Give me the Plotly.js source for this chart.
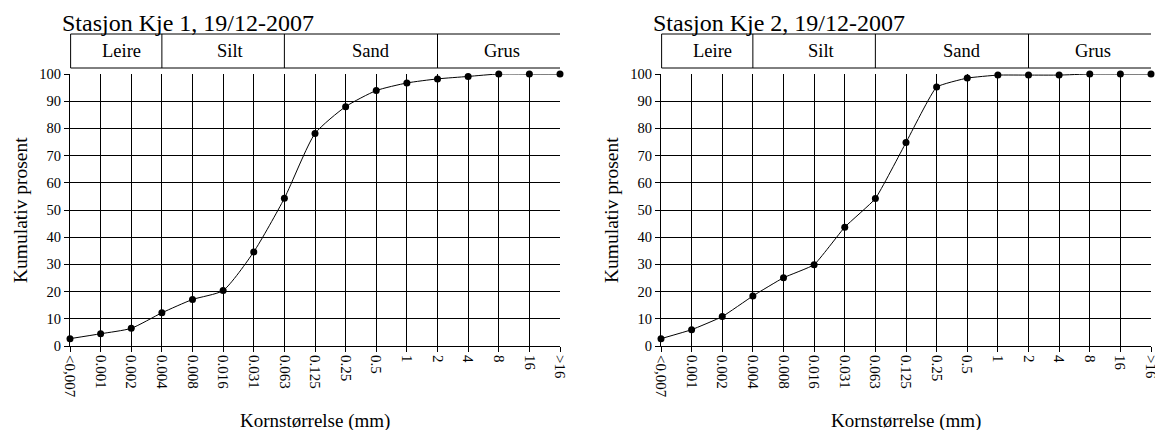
<!DOCTYPE html>
<html>
<head>
<meta charset="utf-8">
<script src="https://cdn.plot.ly/plotly-3.0.1.min.js"></script>
<style>html,body{margin:0;padding:0;background:#fff;}#chart{width:1155px;height:430px;}</style>
</head>
<body>
<div id="chart"></div>
<script>
// ---- data ----
const categories = ['<0,007','0.001','0.002','0.004','0.008','0.016','0.031','0.063','0.125','0.25','0.5','1','2','4','8','16','>16'];
const kje1 = [2.7, 4.5, 6.5, 12.2, 17.1, 20.4, 34.6, 54.3, 78.1, 88.0, 93.9, 96.7, 98.2, 99.1, 100, 100, 100];
const kje2 = [2.7, 6.0, 10.8, 18.4, 25.1, 29.9, 43.7, 54.2, 74.8, 95.2, 98.5, 99.6, 99.6, 99.6, 100, 100, 100];
const chartTitles = ['Stasjon Kje 1, 19/12-2007', 'Stasjon Kje 2, 19/12-2007'];
const classNames = ['Leire', 'Silt', 'Sand', 'Grus'];
const classBounds = [0, 3, 7, 12, 16];   // category index boundaries of each class
const yTitle = 'Kumulativ prosent';
const xTitle = 'Kornstørrelse (mm)';

// ---- layout helpers ----
const W = 1155, H = 430;
const FONT = '"Liberation Serif", "Times New Roman", Times, serif';
const px = v => v / W;
const py = v => 1 - v / H;
const offsets = [0, 591];
const smooth = [0.6, 0.35];
const labelShift = [0.17, 0.25, 0.33, 0.1]; // label offset inside class box (in category units)

const traces = [kje1, kje2].map((vals, i) => ({
  x: categories, y: vals,
  xaxis: i === 0 ? 'x' : 'x2', yaxis: i === 0 ? 'y' : 'y2',
  type: 'scatter', mode: 'lines+markers',
  line: {color: '#000', width: 1, shape: 'spline', smoothing: smooth[i]},
  marker: {color: '#000', size: 7},
  cliponaxis: false, hoverinfo: 'x+y', showlegend: false
}));

function xax(i) {
  const o = offsets[i];
  return {
    type: 'category', categoryorder: 'array', categoryarray: categories,
    domain: [px(70 + o), px(560 + o)], range: [0, 16], fixedrange: true,
    anchor: i === 0 ? 'y' : 'y2',
    showgrid: true, gridcolor: '#000', gridwidth: 1,
    showline: true, linecolor: '#000', linewidth: 1,
    ticks: 'outside', ticklen: 5, tickcolor: '#000', tickwidth: 1,
    tickangle: 90, tickfont: {family: FONT, size: 15, color: '#000'},
    zeroline: false
  };
}
function yax(i) {
  return {
    domain: [py(346), py(74)], range: [0, 100], dtick: 10, fixedrange: true,
    anchor: i === 0 ? 'x' : 'x2',
    showgrid: true, gridcolor: '#000', gridwidth: 1,
    showline: true, linecolor: '#000', linewidth: 1,
    ticks: 'outside', ticklen: 5, tickcolor: '#000', tickwidth: 1,
    tickfont: {family: FONT, size: 14.5, color: '#000'},
    zeroline: false
  };
}

const shapes = [], annotations = [];
[0, 1].forEach(i => {
  const xr = i === 0 ? 'x' : 'x2';
  const o = offsets[i];
  // class header box
  shapes.push({type: 'rect', xref: xr, yref: 'paper', x0: classBounds[0] + 0.02, x1: classBounds[4] + 0.22,
    y0: py(68), y1: py(34), line: {color: '#000', width: 1}, fillcolor: 'rgba(0,0,0,0)'});
  for (let k = 1; k < classBounds.length - 1; k++) {
    shapes.push({type: 'line', xref: xr, yref: 'paper', x0: classBounds[k], x1: classBounds[k],
      y0: py(68), y1: py(34), line: {color: '#000', width: 1}});
  }
  classNames.forEach((n, k) => {
    annotations.push({xref: xr, yref: 'paper', x: (classBounds[k] + classBounds[k + 1]) / 2 + labelShift[k],
      y: py(51.5), text: n, showarrow: false, xanchor: 'center', yanchor: 'middle',
      font: {family: FONT, size: 18.5, color: '#000'}});
  });
  // chart title
  annotations.push({xref: 'paper', yref: 'paper', x: px(60 + o), y: py(23), text: chartTitles[i],
    showarrow: false, xanchor: 'left', yanchor: 'middle', font: {family: FONT, size: 24, color: '#000'}});
  // axis titles
  annotations.push({xref: 'paper', yref: 'paper', x: px(20 + o), y: py(210), text: yTitle, textangle: -90,
    showarrow: false, xanchor: 'center', yanchor: 'middle', font: {family: FONT, size: 19.5, color: '#000'}});
  annotations.push({xref: 'paper', yref: 'paper', x: px(315 + o), y: py(421), text: xTitle,
    showarrow: false, xanchor: 'center', yanchor: 'middle', font: {family: FONT, size: 19, color: '#000'}});
});

const layout = {
  width: W, height: H, margin: {l: 0, r: 0, t: 0, b: 0, autoexpand: false},
  paper_bgcolor: '#fff', plot_bgcolor: '#fff',
  font: {family: FONT, color: '#000'},
  xaxis: xax(0), yaxis: yax(0), xaxis2: xax(1), yaxis2: yax(1),
  shapes: shapes, annotations: annotations, showlegend: false
};

Plotly.newPlot('chart', traces, layout, {displayModeBar: false, staticPlot: true});
</script>
</body>
</html>
